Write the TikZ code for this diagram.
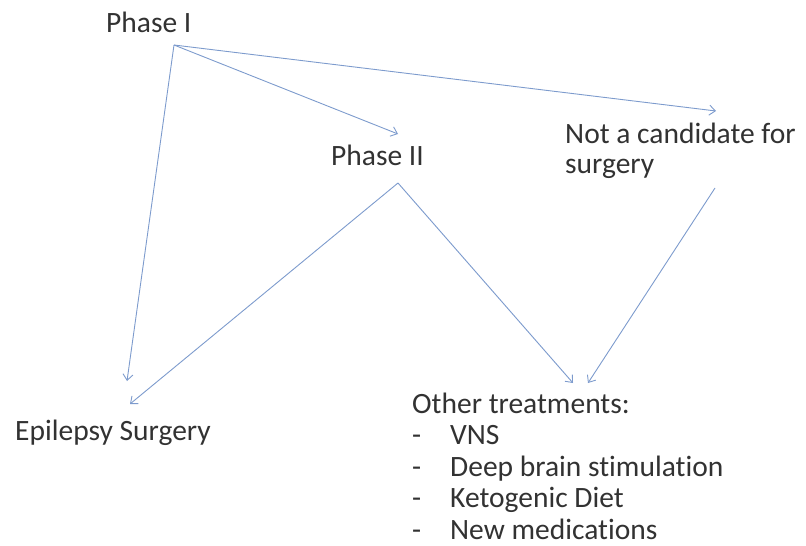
\documentclass[tikz,border=0pt]{standalone}
\usepackage{fontspec}
\setmainfont{Carlito}[Ligatures=NoCommon]
\usetikzlibrary{arrows.meta}
\definecolor{arrowblue}{RGB}{125,155,205}
\definecolor{textgray}{RGB}{50,50,50}
\begin{document}
\begin{tikzpicture}[
    x=1pt, y=-1pt,
    label/.style={inner sep=0pt, anchor=base west, text=textgray, font=\fontsize{29.5}{32}\selectfont, align=left},
    arrow/.style={-{Straight Barb[length=6pt, width=10pt]}, draw=arrowblue, line width=0.9pt}
]
\useasboundingbox (0,0) rectangle (806,546);

% Phases
\node[label] (phase1) at (106,32) {Phase I};
\node[label] (phase2) at (331,165) {Phase II};
\node[label, font=\fontsize{29.5}{30}\selectfont] (nocand) at (565,173) {Not a candidate for\\surgery};

% Outcomes (base = last line)
\node[label] (surgery) at (15,440) {Epilepsy Surgery};
\node[label, font=\fontsize{29.5}{31.5}\selectfont] (other) at (412,539) {Other treatments:\\
    \makebox[38pt][l]{-}VNS\\
    \makebox[38pt][l]{-}Deep brain stimulation\\
    \makebox[38pt][l]{-}Ketogenic Diet\\
    \makebox[38pt][l]{-}New medications};

% Connections
\draw[arrow] ([shift={(68,13)}]phase1.base west) -- ([shift={(67,-31)}]phase2.base west);
\draw[arrow] ([shift={(68,13)}]phase1.base west) -- ([shift={(151,-62)}]nocand.base west);
\draw[arrow] ([shift={(68,13)}]phase1.base west) -- ([shift={(112,-59)}]surgery.base west);

\draw[arrow] ([shift={(67,18)}]phase2.base west) -- ([shift={(115,-36)}]surgery.base west);
\draw[arrow] ([shift={(67,18)}]phase2.base west) -- ([shift={(161,-156)}]other.base west);
\draw[arrow] ([shift={(150,15)}]nocand.base west) -- ([shift={(176,-156)}]other.base west);

\end{tikzpicture}
\end{document}
